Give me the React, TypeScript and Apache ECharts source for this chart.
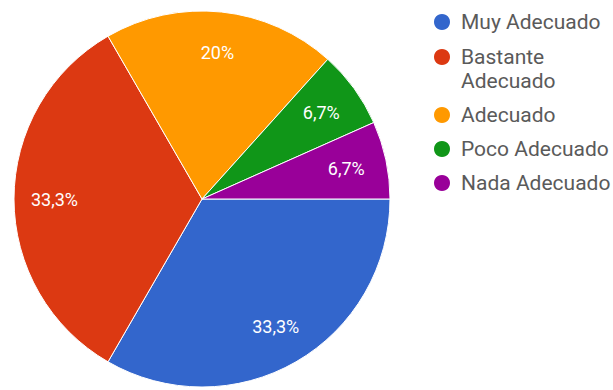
import React, { useEffect, useRef } from 'react';
import * as echarts from 'echarts';

const categories = ['Muy Adecuado', 'Bastante Adecuado', 'Adecuado', 'Poco Adecuado', 'Nada Adecuado'];
const legendLabels = ['Muy Adecuado', ' \nBastante\nAdecuado', 'Adecuado', 'Poco Adecuado', 'Nada Adecuado'];
const counts = [5, 5, 3, 1, 1];
const colors = ['#3366cc', '#dc3912', '#ff9900', '#109618', '#990099'];

const FONT = 'Roboto, "Noto Sans", sans-serif';
const CENTER: [number, number] = [202, 199];
const R = 188;

export default function App() {
  const ref = useRef<HTMLDivElement>(null);
  useEffect(() => {
    document.body.style.margin = '0';
    if (!ref.current) return;
    const chart = echarts.init(ref.current, undefined, { renderer: 'svg' });
    const total = counts.reduce((a, b) => a + b, 0);
    const fmtPct = (v: number) => {
      const s = ((v / total) * 100).toFixed(1).replace('.', ',');
      return (s.endsWith(',0') ? s.slice(0, -2) : s) + '%';
    };
    const data = categories.map((name, i) => ({ name, value: counts[i], itemStyle: { color: colors[i] } }));
    const labelOf: Record<string, string> = {};
    categories.forEach((c, i) => (labelOf[c] = legendLabels[i]));
    const legendBase = {
      orient: 'vertical',
      left: 432,
      padding: 0,
      icon: 'circle',
      itemWidth: 22,
      itemHeight: 18,
      itemGap: 10,
      selectedMode: false,
      formatter: (n: string) => labelOf[n] ?? n,
      textStyle: { fontSize: 21, lineHeight: 24, color: '#5a5a5a', fontFamily: FONT, padding: [0, 0, 0, 3] },
    };
    chart.setOption({
      animation: false,
      backgroundColor: '#fff',
      legend: [
        {
          ...legendBase,
          top: 10,
          data: [{ name: categories[0], itemStyle: { color: colors[0] } }],
        },
        {
          ...legendBase,
          top: 21,
          data: categories.slice(1).map((name, j) => ({ name, itemStyle: { color: colors[j + 1] } })),
        },
      ],
      series: [
        {
          type: 'pie',
          center: CENTER,
          radius: [0, R],
          startAngle: 0,
          clockwise: true,
          data,
          label: { show: false },
          labelLine: { show: false },
          itemStyle: { borderColor: '#fff', borderWidth: 1 },
          emphasis: { disabled: true },
        },
        {
          type: 'pie',
          center: CENTER,
          radius: [101, R],
          startAngle: 0,
          clockwise: true,
          silent: true,
          data: categories.map((name, i) => ({ name, value: counts[i] })),
          itemStyle: { color: 'rgba(0,0,0,0)', borderWidth: 0 },
          label: {
            show: true,
            position: 'inside',
            color: '#fff',
            fontSize: 18,
            fontFamily: FONT,
            formatter: (p: any) => fmtPct(p.value),
          },
          labelLine: { show: false },
          emphasis: { disabled: true },
        },
      ],
    });
    return () => chart.dispose();
  }, []);
  return <div ref={ref} style={{ width: 613, height: 390 }} />;
}
